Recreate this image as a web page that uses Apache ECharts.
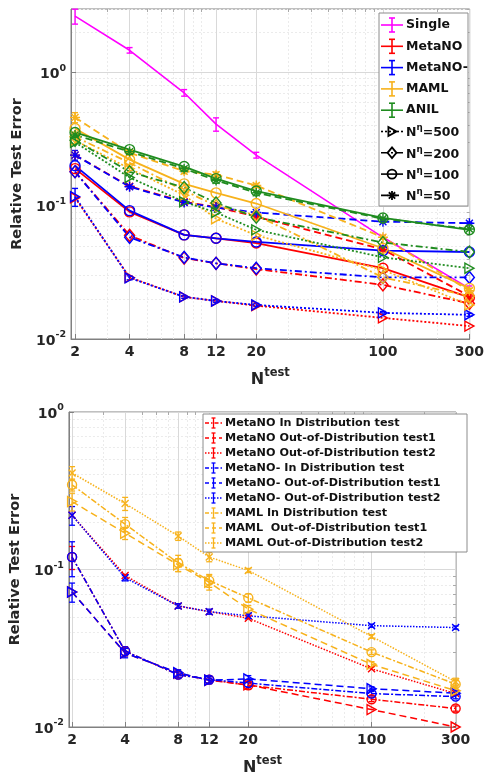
<!DOCTYPE html>
<html>
<head>
<meta charset="utf-8">
<script src="https://cdn.jsdelivr.net/npm/echarts@6/dist/echarts.min.js"></script>
<style>
html, body { margin: 0; padding: 0; background: #fff; }
#chart { width: 487px; height: 777px; }
</style>
</head>
<body>
<div id="chart"></div>
<script>
// ---- shared axis values ----
const nTest = [2, 4, 8, 12, 20, 100, 300];
const xTickLabels = [2, 4, 8, 12, 20, 100, 300];
const xMinorTicks = [3, 5, 6, 7, 9, 10, 30, 40, 50, 60, 70, 80, 90, 200];
const yTickPowers = [-2, -1, 0];

// ---- top panel (N^eta = 500 / 200 / 100 / 50) ----
const single = [2.65, 1.47, 0.705, 0.41, 0.24, 0.058, 0.024];
const singleErr = [0.34, 0.07, 0.04, 0.047, 0.012, 0.002, 0.001];

const metaNO500 = [0.115, 0.029, 0.0207, 0.0193, 0.0178, 0.0144, 0.0125];
const metaNO200 = [0.18, 0.06, 0.0405, 0.037, 0.0335, 0.0255, 0.0185];
const metaNO100 = [0.19, 0.09, 0.0605, 0.057, 0.0525, 0.034, 0.0205];
const metaNO50 = [0.24, 0.14, 0.107, 0.098, 0.083, 0.047, 0.021];

const metaNOm500 = [0.117, 0.0288, 0.0207, 0.0193, 0.018, 0.0157, 0.0152];
const metaNOm500Err = [0.018, 0.001, 0.0005, 0.0005, 0.0005, 0.0004, 0.0004];
const metaNOm200 = [0.18, 0.058, 0.041, 0.037, 0.034, 0.029, 0.029];
const metaNOm100 = [0.2, 0.092, 0.0605, 0.057, 0.0535, 0.046, 0.045];
const metaNOm50 = [0.24, 0.139, 0.106, 0.097, 0.089, 0.076, 0.074];
const metaNOm50Err = [0.02, 0.004, 0.002, 0.002, 0.002, 0.001, 0.001];

const maml500 = [0.31, 0.19, 0.12, 0.08, 0.06, 0.033, 0.018];
const maml200 = [0.33, 0.21, 0.13, 0.1, 0.085, 0.029, 0.021];
const maml100 = [0.38, 0.222, 0.146, 0.125, 0.104, 0.048, 0.024];
const maml50 = [0.46, 0.25, 0.182, 0.171, 0.142, 0.058, 0.023];
const maml50Err = [0.04, 0.01, 0.008, 0.008, 0.005, 0.002, 0.001];

const anil500 = [0.3, 0.163, 0.107, 0.089, 0.066, 0.041, 0.034];
const anil200 = [0.31, 0.18, 0.137, 0.105, 0.082, 0.053, 0.045];
const anil100 = [0.355, 0.264, 0.197, 0.16, 0.129, 0.081, 0.066];
const anil50 = [0.34, 0.255, 0.19, 0.155, 0.125, 0.08, 0.067];

// ---- bottom panel (in distribution / OOD tests) ----
const metaIn = [0.12, 0.0303, 0.0215, 0.02, 0.0184, 0.015, 0.0131];
const metaOod1 = [0.072, 0.0295, 0.022, 0.0198, 0.0185, 0.0129, 0.0100];
const metaOod2 = [0.221, 0.0917, 0.0587, 0.054, 0.049, 0.0234, 0.0163];
const metaMIn = [0.12, 0.0303, 0.0215, 0.02, 0.019, 0.0163, 0.0156];
const metaMOod1 = [0.072, 0.0295, 0.0221, 0.0198, 0.0202, 0.0175, 0.0164];
const metaMOod2 = [0.221, 0.0887, 0.0587, 0.054, 0.0508, 0.044, 0.0428];
const mamlIn = [0.345, 0.194, 0.11, 0.085, 0.066, 0.0299, 0.0187];
const mamlOod1 = [0.27, 0.17, 0.107, 0.083, 0.056, 0.025, 0.017];
const mamlOod2 = [0.41, 0.262, 0.163, 0.12, 0.0986, 0.0376, 0.0194];

const metaInErr = [0.02, 0.002, 0.001, 0.001, 0.001, 0.0005, 0.0005];
const metaMInErr = [0.03, 0.002, 0.001, 0.001, 0.001, 0.0005, 0.0005];
const metaMOod1Err = [0.01, 0.002, 0.001, 0.001, 0.001, 0.0005, 0.0005];
const metaMOod2Err = [0.03, 0.004, 0.002, 0.002, 0.002, 0.001, 0.001];
const mamlInErr = [0.03, 0.02, 0.013, 0.008, 0.004, 0.001, 0.001];
const mamlOod1Err = [0.035, 0.015, 0.01, 0.009, 0.003, 0.001, 0.001];
const mamlOod2Err = [0.04, 0.025, 0.01, 0.008, 0.003, 0.001, 0.001];

const cSingle = "#ff00ff", cRed = "#ff0000", cBlue = "#0000ff", cOrange = "#f7b21c", cGreen = "#1f8c1f";
const FONT = "DejaVu Sans";
const TXT = "#262626";
const L = Math.log10;

const SYM = {
  tri: { s: "path://M0,0L10,5L0,10Z", size: [9, 10] },
  dia: { s: "path://M5,0L10,6L5,12L0,6Z", size: [10, 12] },
  cir: { s: "circle", size: 10 },
  ast: { s: "path://M5,0L5,10M0,5L10,5M1.5,1.5L8.5,8.5M1.5,8.5L8.5,1.5", size: 10 },
  x: { s: "path://M0,0L10,10M0,10L10,0", size: 7 }
};
const DOT = [2, 2], DASH = [7, 4], DASHDOT = [7, 3, 2, 3];

function lineSeries(ys, color, dash, sym, ax, lw, symScale) {
  const sc = symScale || 1;
  const sz = Array.isArray(sym.size) ? sym.size.map(v => v * sc) : sym.size * sc;
  return {
    type: "line", xAxisIndex: ax, yAxisIndex: ax,
    data: nTest.map((x, i) => [L(x), L(ys[i])]),
    symbol: sym ? sym.s : "none", symbolSize: sz, showAllSymbol: true,
    lineStyle: { color: color, width: lw, type: dash },
    itemStyle: { color: "rgba(0,0,0,0)", borderColor: color, borderWidth: 1.4 },
    emphasis: { disabled: true }, silent: true
  };
}

function errSeries(ys, errs, color, ax, lw) {
  return {
    type: "custom", xAxisIndex: ax, yAxisIndex: ax, silent: true,
    data: nTest.map((x, i) => [L(x), L(ys[i] - errs[i]), L(ys[i] + errs[i])]),
    encode: { x: 0, y: [1, 2] },
    renderItem: function (params, api) {
      const a = api.coord([api.value(0), api.value(1)]);
      const b = api.coord([api.value(0), api.value(2)]);
      const c = 3;
      const st = { stroke: color, lineWidth: lw };
      return {
        type: "group", children: [
          { type: "line", shape: { x1: a[0], y1: a[1], x2: b[0], y2: b[1] }, style: st },
          { type: "line", shape: { x1: a[0] - c, y1: a[1], x2: a[0] + c, y2: a[1] }, style: st },
          { type: "line", shape: { x1: b[0] - c, y1: b[1], x2: b[0] + c, y2: b[1] }, style: st }
        ]
      };
    }
  };
}

function yMinor(maxVal) {
  const out = [];
  yTickPowers.forEach(p => {
    for (let k = 2; k <= 9; k++) if (k * Math.pow(10, p) <= maxVal) out.push(L(k * Math.pow(10, p)));
  });
  return out;
}

function axesFor(grid, xmin, xmax, ymin, ymax, yNameGap) {
  const labelStyle = { color: TXT, fontWeight: "bold", fontSize: 14, fontFamily: FONT };
  const xs = [
    {
      type: "value", gridIndex: grid, min: xmin, max: xmax, position: "bottom",
      axisLine: { show: true, onZero: false, lineStyle: { color: "#808080" } },
      axisTick: { show: true, inside: true, length: 5, customValues: xTickLabels.map(L), lineStyle: { color: "#808080" } },
      axisLabel: Object.assign({ customValues: xTickLabels.map(L), margin: 6,
        formatter: v => String(Math.round(Math.pow(10, v))) }, labelStyle),
      splitLine: { show: true, lineStyle: { color: "#d9d9d9", width: 1 } },
      name: "{n|N}{s|test}", nameLocation: "middle", nameGap: 28,
      nameTextStyle: { rich: {
        n: { fontSize: 16, fontWeight: "bold", fontFamily: FONT, color: TXT, verticalAlign: "bottom", padding: [5, 0, 0, 0] },
        s: { fontSize: 11.5, fontWeight: "bold", fontFamily: FONT, color: TXT, verticalAlign: "top" } } }
    },
    {
      type: "value", gridIndex: grid, min: xmin, max: xmax, position: "top",
      axisLine: { show: false, onZero: false }, axisLabel: { show: false },
      axisTick: { show: true, inside: true, length: 3, customValues: xMinorTicks.map(L), lineStyle: { color: "#aaa" } },
      splitLine: { show: true, lineStyle: { color: "#ebebeb", width: 1, type: [2, 2] } }
    }
  ];
  const ys = [
    {
      type: "value", gridIndex: grid, min: ymin, max: ymax, position: "left",
      axisLine: { show: true, onZero: false, lineStyle: { color: "#808080" } },
      axisTick: { show: true, inside: true, length: 5, customValues: yTickPowers, lineStyle: { color: "#808080" } },
      axisLabel: { customValues: yTickPowers, margin: 5,
        formatter: v => "{b|10}{s|" + Math.round(v) + "}",
        rich: {
          b: { fontSize: 14, fontWeight: "bold", fontFamily: FONT, color: TXT, verticalAlign: "bottom", padding: [4, 0, 0, 0] },
          s: { fontSize: 9.5, fontWeight: "bold", fontFamily: FONT, color: TXT, verticalAlign: "top" } } },
      splitLine: { show: true, lineStyle: { color: "#d9d9d9", width: 1 } },
      name: "Relative Test Error", nameLocation: "middle", nameGap: yNameGap,
      nameTextStyle: { fontSize: 14.5, fontWeight: "bold", fontFamily: FONT, color: TXT }
    },
    {
      type: "value", gridIndex: grid, min: ymin, max: ymax, position: "right",
      axisLine: { show: false, onZero: false }, axisLabel: { show: false },
      axisTick: { show: true, inside: true, length: 3, customValues: yMinor(Math.pow(10, ymax)), lineStyle: { color: "#aaa" } },
      splitLine: { show: true, lineStyle: { color: "#ebebeb", width: 1, type: [2, 2] } }
    }
  ];
  return { xs, ys };
}

// ---- legends drawn as graphic elements ----
function markerEls(kind, cx, cy, r, color, lw) {
  const st = { fill: "none", stroke: color, lineWidth: lw };
  if (kind === "cir") return [{ type: "circle", shape: { cx, cy, r }, style: st }];
  if (kind === "tri") return [{ type: "polygon", shape: { points: [[cx - r * 0.8, cy - r], [cx + r, cy], [cx - r * 0.8, cy + r]] }, style: st }];
  if (kind === "dia") return [{ type: "polygon", shape: { points: [[cx, cy - r * 1.2], [cx + r, cy], [cx, cy + r * 1.2], [cx - r, cy]] }, style: st }];
  if (kind === "ast") {
    const d = r * 0.7;
    return [[0, -r, 0, r], [-r, 0, r, 0], [-d, -d, d, d], [-d, d, d, -d]].map(p => ({
      type: "line", shape: { x1: cx + p[0], y1: cy + p[1], x2: cx + p[2], y2: cy + p[3] }, style: { stroke: color, lineWidth: lw } }));
  }
  return [];
}

function legendEls(box, rows, o) {
  const els = [{ type: "rect", shape: box, style: { fill: "#fff", stroke: "#8c8c8c", lineWidth: 1 } }];
  rows.forEach((r, i) => {
    const y = o.y0 + i * o.dy;
    const cx = (o.lx0 + o.lx1) / 2;
    els.push({ type: "line", shape: { x1: o.lx0, y1: y, x2: o.lx1, y2: y },
      style: { stroke: r.color, lineWidth: o.lw, lineDash: r.dash || null } });
    if (r.err) {
      const st = { stroke: r.color, lineWidth: o.lw };
      els.push({ type: "line", shape: { x1: cx, y1: y - o.eh, x2: cx, y2: y + o.eh }, style: st });
      els.push({ type: "line", shape: { x1: cx - o.cap, y1: y - o.eh, x2: cx + o.cap, y2: y - o.eh }, style: st });
      els.push({ type: "line", shape: { x1: cx - o.cap, y1: y + o.eh, x2: cx + o.cap, y2: y + o.eh }, style: st });
    }
    if (r.sym) els.push(...markerEls(r.sym, cx, y, o.mr, r.color, 1.8));
    els.push({ type: "text", x: o.tx, y: y,
      style: { text: r.label, fill: "#111", fontSize: o.fs, fontWeight: "bold", fontFamily: FONT,
        verticalAlign: "middle", textVerticalAlign: "middle",
        rich: {
          n: { fontSize: o.fs, fontWeight: "bold", fontFamily: FONT, fill: "#111", verticalAlign: "bottom", padding: [3, 0, 0, 0] },
          s: { fontSize: o.fs * 0.7, fontWeight: "bold", fontFamily: FONT, fill: "#111", verticalAlign: "top" } } } });
  });
  return els.map(e => Object.assign(e, { z: 100 }));
}

const topLegend = legendEls({ x: 379, y: 13, width: 89, height: 193 }, [
  { label: "Single", color: cSingle, err: true },
  { label: "MetaNO", color: cRed, err: true },
  { label: "MetaNO-", color: cBlue, err: true },
  { label: "MAML", color: cOrange, err: true },
  { label: "ANIL", color: cGreen, err: true },
  { label: "{n|N}{s|η}{n|=500}", color: "#000", dash: DOT, sym: "tri" },
  { label: "{n|N}{s|η}{n|=200}", color: "#000", dash: DASHDOT, sym: "dia" },
  { label: "{n|N}{s|η}{n|=100}", color: "#000", sym: "cir" },
  { label: "{n|N}{s|η}{n|=50}", color: "#000", dash: DASH, sym: "ast" }
], { y0: 25, dy: 21.3, lx0: 381, lx1: 403, tx: 406, fs: 12.5, lw: 1.6, eh: 7, cap: 3, mr: 4.5 });

const botLegend = legendEls({ x: 203, y: 414, width: 264, height: 138 }, [
  { label: "MetaNO In Distribution test", color: cRed, dash: [4, 2, 1.5, 2], err: true },
  { label: "MetaNO Out-of-Distribution test1", color: cRed, dash: [4, 3], err: true },
  { label: "MetaNO Out-of-Distribution test2", color: cRed, dash: [1.5, 1.5], err: true },
  { label: "MetaNO- In Distribution test", color: cBlue, dash: [4, 2, 1.5, 2], err: true },
  { label: "MetaNO- Out-of-Distribution test1", color: cBlue, dash: [4, 3], err: true },
  { label: "MetaNO- Out-of-Distribution test2", color: cBlue, dash: [1.5, 1.5], err: true },
  { label: "MAML In Distribution test", color: cOrange, dash: [4, 2, 1.5, 2], err: true },
  { label: "MAML  Out-of-Distribution test1", color: cOrange, dash: [4, 3], err: true },
  { label: "MAML Out-of-Distribution test2", color: cOrange, dash: [1.5, 1.5], err: true }
], { y0: 423, dy: 15, lx0: 205, lx1: 222, tx: 225, fs: 11.2, lw: 1.3, eh: 5, cap: 2, mr: 0 });

// ---- assemble ----
const topAx = axesFor(0, L(1.9), L(301), -2, L(3), 42);
const botAx = axesFor(1, L(1.92), L(300) + 0.002, -2, 0, 43);

const series = [
  lineSeries(single, cSingle, "solid", { s: "none", size: 0 }, 0, 1.6),
  errSeries(single, singleErr, cSingle, 0, 1.4),

  lineSeries(metaNO500, cRed, DOT, SYM.tri, 0, 1.8),
  lineSeries(metaNO200, cRed, DASHDOT, SYM.dia, 0, 1.8),
  lineSeries(metaNO100, cRed, "solid", SYM.cir, 0, 1.8),
  lineSeries(metaNO50, cRed, DASH, SYM.ast, 0, 1.8),

  lineSeries(metaNOm500, cBlue, DOT, SYM.tri, 0, 1.8),
  errSeries(metaNOm500, metaNOm500Err, cBlue, 0, 1.4),
  lineSeries(metaNOm200, cBlue, DASHDOT, SYM.dia, 0, 1.8),
  lineSeries(metaNOm100, cBlue, "solid", SYM.cir, 0, 1.8),
  lineSeries(metaNOm50, cBlue, DASH, SYM.ast, 0, 1.8),
  errSeries(metaNOm50, metaNOm50Err, cBlue, 0, 1.4),

  lineSeries(maml500, cOrange, DOT, SYM.tri, 0, 1.8),
  lineSeries(maml200, cOrange, DASHDOT, SYM.dia, 0, 1.8),
  lineSeries(maml100, cOrange, "solid", SYM.cir, 0, 1.8),
  lineSeries(maml50, cOrange, DASH, SYM.ast, 0, 1.8),
  errSeries(maml50, maml50Err, cOrange, 0, 1.4),

  lineSeries(anil500, cGreen, DOT, SYM.tri, 0, 1.8),
  lineSeries(anil200, cGreen, DASHDOT, SYM.dia, 0, 1.8),
  lineSeries(anil100, cGreen, "solid", SYM.cir, 0, 1.8),
  lineSeries(anil50, cGreen, DASH, SYM.ast, 0, 1.8),

  lineSeries(metaIn, cRed, [6, 2, 2, 2], SYM.cir, 2, 1.5, 0.9),
  errSeries(metaIn, metaInErr, cRed, 2, 1.3),
  lineSeries(metaOod1, cRed, [7, 4], SYM.tri, 2, 1.5, 1),
  lineSeries(metaOod2, cRed, [1.5, 1.5], SYM.x, 2, 1.5),

  lineSeries(metaMIn, cBlue, [6, 2, 2, 2], SYM.cir, 2, 1.5, 0.9),
  errSeries(metaMIn, metaMInErr, cBlue, 2, 1.3),
  lineSeries(metaMOod1, cBlue, [7, 4], SYM.tri, 2, 1.5, 1),
  errSeries(metaMOod1, metaMOod1Err, cBlue, 2, 1.3),
  lineSeries(metaMOod2, cBlue, [1.5, 1.5], SYM.x, 2, 1.5),
  errSeries(metaMOod2, metaMOod2Err, cBlue, 2, 1.3),

  lineSeries(mamlIn, cOrange, [6, 2, 2, 2], SYM.cir, 2, 1.5, 0.9),
  errSeries(mamlIn, mamlInErr, cOrange, 2, 1.3),
  lineSeries(mamlOod1, cOrange, [7, 4], SYM.tri, 2, 1.5, 1),
  errSeries(mamlOod1, mamlOod1Err, cOrange, 2, 1.3),
  lineSeries(mamlOod2, cOrange, [1.5, 1.5], SYM.x, 2, 1.5),
  errSeries(mamlOod2, mamlOod2Err, cOrange, 2, 1.3)
];

const option = {
  animation: false,
  backgroundColor: "#fff",
  grid: [
    { left: 71, top: 9, width: 402, height: 330, show: true, borderColor: "#808080", borderWidth: 1, backgroundColor: "transparent" },
    { left: 65, top: 412, width: 391, height: 321, show: true, borderColor: "#808080", borderWidth: 1, backgroundColor: "transparent" }
  ],
  xAxis: topAx.xs.concat(botAx.xs),
  yAxis: topAx.ys.concat(botAx.ys),
  series: series,
  graphic: topLegend.concat(botLegend)
};

const myChart = echarts.init(document.getElementById("chart"), null, { renderer: "canvas" });
myChart.setOption(option);
</script>
</body>
</html>
